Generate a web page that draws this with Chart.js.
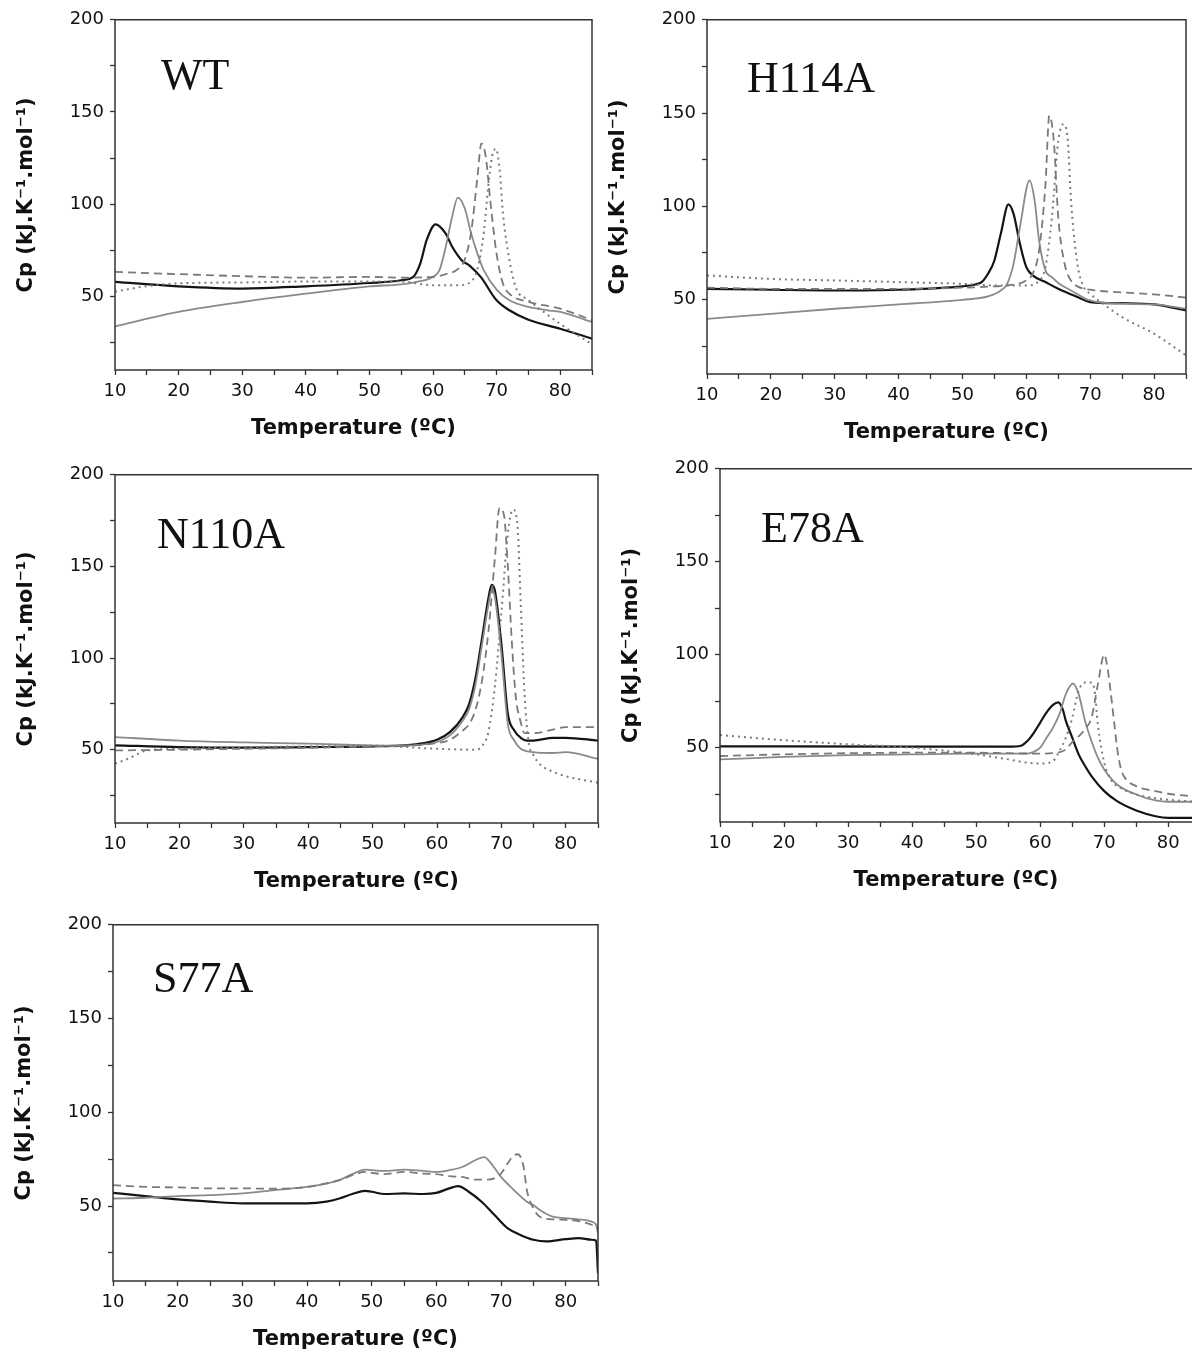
<!DOCTYPE html>
<html>
<head>
<meta charset="utf-8">
<script src="https://cdn.jsdelivr.net/npm/chart.js@4.4.1/dist/chart.umd.min.js"></script>
<style>
    html, body { margin: 0; padding: 0; background: #fff; }
    body { width: 1192px; height: 1354px; position: relative; overflow: hidden; }
    .panel { position: absolute; }
</style>
</head>
<body>
<script>
// tick values shared by every panel
const xTickValues = [10, 15, 20, 25, 30, 35, 40, 45, 50, 55, 60, 65, 70, 75, 80, 85]
const yTickValues = [25, 50, 75, 100, 125, 150, 175, 200]

/* WT */
const wtBlackT  = [10, 20, 30, 40, 50, 55, 57, 58, 59, 60.4, 62, 63, 64.5, 65.7, 67.5, 70, 72, 75, 80, 85]
const wtBlackCp = [57.8, 55.4, 54.2, 55.4, 57.2, 58.7, 60.9, 67.8, 80.4, 89, 84, 77, 69.6, 66.8, 60.5, 47.8, 42.4, 37.3, 32.4, 27]
const wtGrayT   = [10, 20, 30, 40, 50, 55, 58, 60, 61, 62, 63, 63.9, 65, 66, 67, 68, 70, 72, 75, 78, 80, 85]
const wtGrayCp  = [33.7, 41.5, 46.9, 51.4, 55.4, 56.5, 58.2, 60.5, 64, 76.8, 93, 103.5, 97.6, 84, 73, 64, 53.6, 47.8, 44.2, 42.4, 41.5, 36]
const wtDashT   = [10, 20, 30, 40, 50, 55, 60, 62, 64, 65, 66, 67, 67.6, 68.3, 69, 70, 71, 72, 75, 80, 85]
const wtDashCp  = [63.2, 62, 60.9, 60.1, 60.5, 60.1, 60.5, 62, 65, 70, 85, 114.9, 133, 125.7, 102, 73, 56.9, 51.4, 47, 43.3, 37]
const wtDotT    = [10, 15, 20, 30, 40, 50, 55, 60, 64, 66, 67, 68, 68.7, 69.3, 69.9, 70.5, 71, 72, 73, 75, 78, 80, 85]
const wtDotCp   = [52.5, 55.5, 57, 57.5, 58, 58, 58, 56, 56, 58, 65, 85, 110, 126, 130, 118, 95, 70, 55, 48, 40, 35, 24]

/* H114A */
const hBlackT  = [10, 20, 30, 40, 50, 52, 53, 54, 55, 56, 57.2, 58, 59, 60, 61, 63, 65, 68, 70, 75, 80, 85]
const hBlackCp = [55.7, 55.2, 54.8, 55.2, 57, 58, 59.3, 63.8, 70.9, 85.2, 101, 95.9, 79.8, 67.3, 62.9, 59.3, 55.7, 51.3, 48.6, 48, 47.3, 44.1]
const hGrayT   = [10, 20, 30, 40, 50, 54, 56, 57, 58, 59, 60.5, 61.3, 62, 63, 64, 65, 67, 70, 75, 80, 85]
const hGrayCp  = [39.6, 42.3, 45, 47.3, 49.8, 51.6, 54.8, 58.4, 69.1, 88.8, 113.8, 103, 81.6, 65.5, 62, 58.8, 54.8, 49.5, 47.7, 47.3, 45]
const hDashT   = [10, 20, 40, 50, 55, 57, 60, 61, 62, 63, 63.6, 64.3, 65, 66, 67, 68, 70, 75, 80, 85]
const hDashCp  = [56.3, 55.7, 55.7, 56.3, 57, 57.5, 60.2, 63.8, 76.3, 112, 148.6, 135, 94, 69, 60, 57, 55.2, 53.8, 52.7, 51]
const hDotT    = [10, 20, 30, 40, 50, 55, 60, 62, 63, 64, 65, 65.8, 66.5, 67, 68, 69, 70, 72, 75, 80, 85]
const hDotCp   = [62.9, 61, 60.2, 59.3, 58.4, 57.5, 57.5, 60, 67.3, 94, 135, 144, 135, 103, 69, 56.6, 53, 47.7, 40.5, 31.6, 20]

/* N110A */
const nBlackT  = [10, 20, 30, 40, 50, 55, 58, 60, 62, 64, 65, 66, 67, 68, 68.5, 69, 70, 71, 72, 73, 74, 75, 78, 80, 85]
const nBlackCp = [52.4, 51.4, 51.1, 51.4, 51.8, 52.4, 53.6, 55.4, 59.6, 67.8, 75, 89.5, 111, 133, 140, 136.6, 107.6, 69.6, 60.5, 56.5, 55, 55, 56.5, 56.5, 55]
const nGrayT   = [10, 20, 30, 40, 50, 55, 58, 60, 62, 64, 65, 66, 67, 68, 68.5, 69, 70, 71, 72, 73, 75, 78, 80, 85]
const nGrayCp  = [56.9, 55, 54, 53.3, 52.4, 52.2, 52.9, 54.2, 57.8, 66, 72.3, 86, 107.6, 129.3, 137.5, 133, 102, 64, 55, 50.5, 48.7, 48.2, 48.7, 45]
const nDashT   = [10, 20, 30, 40, 50, 55, 60, 62, 64, 65, 66, 67, 68, 69, 69.7, 70.4, 71, 71.6, 72.2, 73, 73.6, 75, 78, 80, 85]
const nDashCp  = [49.6, 50, 50.5, 51, 51.8, 52.2, 53.6, 55.4, 60.5, 64, 72, 88, 115, 155, 182, 178, 150, 110, 80, 65, 59, 59, 61, 62.3, 62.3]
const nDotT    = [10, 12, 15, 20, 30, 40, 50, 60, 66, 67, 68, 69, 70, 71, 71.8, 72.5, 73, 73.6, 74.2, 75, 76, 78, 80, 85]
const nDotCp   = [42.4, 45, 49.6, 50.5, 51.4, 51.8, 52.2, 50.5, 50, 52, 60, 85, 125, 168, 181, 172, 130, 80, 55, 47, 42, 38, 35.5, 32]

/* E78A */
const eBlackT  = [10, 20, 40, 50, 55, 57, 58, 59, 60, 61, 62, 62.8, 63.5, 64, 65, 66, 67, 68, 70, 72, 75, 78, 80, 83.7]
const eBlackCp = [50.7, 50.7, 50.6, 50.5, 50.5, 51, 53.6, 58, 63.5, 69, 73, 74.3, 70.7, 64.4, 55.4, 46.4, 40.1, 34.7, 26.6, 21.2, 16.2, 13.1, 12.2, 12.2]
const eGrayT   = [10, 20, 30, 40, 50, 55, 58, 59, 60, 61, 62, 63, 64, 65.1, 66, 67, 68, 69, 70, 72, 75, 78, 80, 83.7]
const eGrayCp  = [43.7, 45, 46, 46.4, 46.8, 46.8, 46.8, 47.8, 50, 55.4, 60.8, 68, 78.8, 84.5, 78.8, 64.4, 53.6, 44.6, 38.3, 30.2, 24.8, 21.6, 20.9, 20.9]
const eDashT   = [10, 20, 30, 40, 50, 55, 60, 62, 64, 65, 66, 67, 68, 69, 70, 70.5, 71, 71.5, 72, 72.5, 73, 75, 78, 80, 83.7]
const eDashCp  = [45.5, 46.4, 47, 47.3, 47.3, 47, 46.8, 47, 49, 53, 56, 60, 66, 84, 100, 93, 80, 65, 50, 40, 35, 29.3, 26.6, 25.2, 23.9]
const eDotT    = [10, 20, 30, 40, 50, 55, 58, 60, 62, 63, 64, 65, 66, 67, 68, 68.5, 69, 70, 71, 73, 75, 80, 83.7]
const eDotCp   = [56.8, 54, 51.8, 50, 46.4, 43.7, 41.9, 41.4, 42.8, 48.2, 55.4, 66, 80.6, 85, 85, 80.6, 62.6, 41.9, 33, 27.5, 24.8, 22, 21]

/* S77A */
const sBlackT  = [10, 15, 20, 25, 30, 35, 40, 43, 45, 47, 49, 50, 52, 55, 58, 60, 62, 63.4, 65, 67, 69, 71, 73, 75, 77, 80, 82, 84, 84.7, 85]
const sBlackCp = [57, 55.3, 53.5, 52.3, 51.4, 51.4, 51.4, 52.3, 54, 56.4, 58.1, 57.6, 56.4, 56.7, 56.4, 57, 59.4, 60.6, 57.6, 52.3, 45.2, 38.2, 34.6, 32, 31.1, 32.3, 32.9, 32, 31.6, 14]
const sGrayT   = [10, 15, 20, 25, 30, 35, 40, 43, 45, 47, 49, 50, 52, 55, 58, 60, 62, 64, 66, 67.4, 68.5, 70, 72, 74, 75, 76, 78, 80, 82, 84, 84.7, 85]
const sGrayCp  = [54, 54.4, 55.3, 55.8, 56.7, 58.5, 60.2, 62, 63.8, 67, 69.4, 69.1, 68.7, 69.4, 68.7, 68.2, 69.1, 70.8, 74.4, 76.1, 72.6, 65.5, 58.5, 52.3, 50.5, 47.9, 44.3, 43.5, 42.9, 41.7, 40, 35.5]
const sDashT   = [10, 15, 20, 25, 30, 35, 40, 45, 47, 49, 50, 52, 55, 58, 60, 62, 64, 66, 68, 70, 71, 72, 72.6, 73.5, 74, 75, 76, 78, 80, 82, 84, 85]
const sDashCp  = [61.1, 60.2, 59.9, 59.4, 59.4, 59.2, 60.2, 63.8, 66.4, 68.2, 67.7, 67, 68.2, 67.3, 67, 65.9, 65.5, 64.1, 64.1, 67.3, 72.6, 77, 77.6, 70.8, 58.5, 48.8, 44.3, 42.9, 42.6, 42, 40, 38.2]

const lineStyles = {
    black: {borderColor: '#141414', borderWidth: 2.2, borderDash: []},
    gray:  {borderColor: '#8a8a8a', borderWidth: 1.8, borderDash: []},
    dash:  {borderColor: '#7a7a7a', borderWidth: 1.8, borderDash: [8, 5]},
    dot:   {borderColor: '#7c7c7c', borderWidth: 2, borderDash: [2, 4]}
}

const panels = [
    {name: 'WT', left: 115, top: 18, right: 592, bottom: 370, xMax: 85, labelDx: 46, labelDy: 69,
        series: [[wtDashT, wtDashCp, 'dash'], [wtDotT, wtDotCp, 'dot'], [wtGrayT, wtGrayCp, 'gray'], [wtBlackT, wtBlackCp, 'black']]},
    {name: 'H114A', left: 707, top: 18, right: 1189, bottom: 374, xMax: 85, labelDx: 40, labelDy: 72,
        series: [[hDashT, hDashCp, 'dash'], [hDotT, hDotCp, 'dot'], [hGrayT, hGrayCp, 'gray'], [hBlackT, hBlackCp, 'black']]},
    {name: 'N110A', left: 115, top: 473, right: 598, bottom: 823, xMax: 85, labelDx: 42, labelDy: 73,
        series: [[nDashT, nDashCp, 'dash'], [nDotT, nDotCp, 'dot'], [nGrayT, nGrayCp, 'gray'], [nBlackT, nBlackCp, 'black']]},
    {name: 'E78A', left: 720, top: 467, right: 1192, bottom: 822, xMax: 83.7, openRight: true, labelDx: 41, labelDy: 73,
        series: [[eDashT, eDashCp, 'dash'], [eDotT, eDotCp, 'dot'], [eGrayT, eGrayCp, 'gray'], [eBlackT, eBlackCp, 'black']]},
    {name: 'S77A', left: 113, top: 923, right: 598, bottom: 1281, xMax: 85, labelDx: 40, labelDy: 67,
        series: [[sDashT, sDashCp, 'dash'], [sGrayT, sGrayCp, 'gray'], [sBlackT, sBlackCp, 'black']]}
]

const Y_AXIS_W = 115
const X_AXIS_H = 82
const PAD_TOP = 15

// box around the plot + the mutant name
const framePlugin = {
    id: 'frame',
    afterDatasetsDraw(chart, args, opts) {
        const {ctx, chartArea: a} = chart
        ctx.save()
        ctx.strokeStyle = '#333'
        ctx.lineWidth = 1.5
        ctx.beginPath()
        if (opts.openRight) {
            ctx.moveTo(a.right + 2, a.top)
            ctx.lineTo(a.left, a.top)
            ctx.lineTo(a.left, a.bottom)
            ctx.lineTo(a.right + 2, a.bottom)
        } else {
            ctx.rect(a.left, a.top, a.right - a.left, a.bottom - a.top)
        }
        ctx.stroke()
        ctx.fillStyle = '#111'
        ctx.font = '44px "Liberation Serif", "Times New Roman", serif'
        ctx.textBaseline = 'alphabetic'
        ctx.fillText(opts.name, a.left + opts.dx, a.top + opts.dy)
        ctx.restore()
    }
}

function makePanel(p) {
    const padR = Math.max(0, Math.min(15, 1192 - p.right))
    const w = (p.right - p.left) + Y_AXIS_W + padR
    const h = (p.bottom - p.top) + PAD_TOP + X_AXIS_H

    const div = document.createElement('div')
    div.className = 'panel'
    div.style.left = (p.left - Y_AXIS_W) + 'px'
    div.style.top = (p.top - PAD_TOP) + 'px'
    div.style.width = w + 'px'
    div.style.height = h + 'px'
    const canvas = document.createElement('canvas')
    canvas.width = w
    canvas.height = h
    div.append(canvas)
    document.body.append(div)

    const datasets = p.series.map(function(s) {
        const st = lineStyles[s[2]]
        return {
            data: s[0].map((t, i) => ({x: t, y: s[1][i]})),
            borderColor: st.borderColor,
            borderWidth: st.borderWidth,
            borderDash: st.borderDash,
            pointRadius: 0,
            fill: false,
            cubicInterpolationMode: 'monotone'
        }
    })

    const tickFont = {family: '"DejaVu Sans", sans-serif', size: 18}
    const titleFont = {family: '"DejaVu Sans", sans-serif', size: 21, weight: 'bold'}

    new Chart(canvas.getContext('2d'), {
        type: 'line',
        data: {datasets: datasets},
        options: {
            responsive: false,
            animation: false,
            devicePixelRatio: 1,
            layout: {padding: {top: PAD_TOP, right: padR, left: 0, bottom: 0}},
            plugins: {
                legend: {display: false},
                tooltip: {enabled: false},
                frame: {name: p.name, dx: p.labelDx, dy: p.labelDy, openRight: !!p.openRight}
            },
            scales: {
                x: {
                    type: 'linear',
                    min: 10,
                    max: p.xMax,
                    afterBuildTicks: s => { s.ticks = xTickValues.filter(v => v <= p.xMax).map(v => ({value: v})) },
                    afterFit: s => { s.height = X_AXIS_H },
                    grid: {drawOnChartArea: false, drawTicks: true, tickLength: 5, tickColor: '#333', tickWidth: 1.3},
                    border: {display: false},
                    ticks: {
                        font: tickFont,
                        color: '#111',
                        padding: 6,
                        maxRotation: 0,
                        autoSkip: false,
                        callback: v => (v % 10 === 0 ? v : '')
                    },
                    title: {display: true, text: 'Temperature (ºC)', font: titleFont, color: '#111', padding: {top: 0, bottom: 11}}
                },
                y: {
                    type: 'linear',
                    min: 10,
                    max: 200,
                    afterBuildTicks: s => { s.ticks = yTickValues.map(v => ({value: v})) },
                    afterFit: s => { s.width = Y_AXIS_W },
                    grid: {drawOnChartArea: false, drawTicks: true, tickLength: 5, tickColor: '#333', tickWidth: 1.3},
                    border: {display: false},
                    ticks: {
                        font: tickFont,
                        color: '#111',
                        padding: 6,
                        autoSkip: false,
                        callback: v => (v % 50 === 0 ? v : '')
                    },
                    title: {display: true, text: 'Cp (kJ.K⁻¹.mol⁻¹)', font: titleFont, color: '#111', padding: {top: 14, bottom: 0}}
                }
            }
        },
        plugins: [framePlugin]
    })
}

for (const p of panels) {
    makePanel(p)
}
</script>
</body>
</html>
